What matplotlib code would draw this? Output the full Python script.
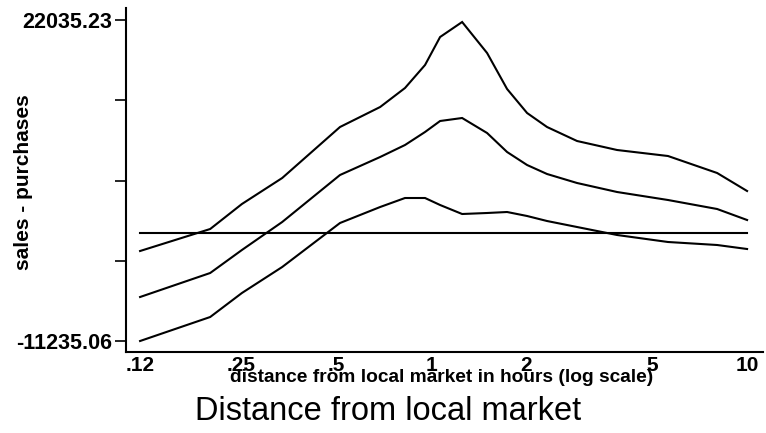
import numpy as np
import matplotlib
matplotlib.use("Agg")
import matplotlib.pyplot as plt

# data
dist = [0.12, 0.20, 0.252, 0.338, 0.515, 0.690, 0.827, 0.957, 1.068, 1.254,
        1.504, 1.740, 2.013, 2.328, 2.897, 3.878, 5.62, 8.04, 10.0]
upper = [-1907, 373, 2964, 5659, 10945, 13018, 14987, 17371, 20273, 21828,
         18615, 14883, 12396, 10945, 9494, 8561, 7939, 6177, 4312]
middle = [-6675, -4187, -1803, 1099, 5970, 7836, 9079, 10427, 11567, 11878,
          10323, 8354, 7006, 6074, 5141, 4208, 3379, 2446, 1306]
lower = [-11235, -8748, -6260, -3565, 995, 2653, 3586, 3586, 2861, 1928,
         2032, 2135, 1721, 1202, 580, -248, -974, -1285, -1700]

ymin, ymax = -11235.06, 22035.23
xticks = [0.12, 0.25, 0.5, 1, 2, 5, 10]
xticklabels = [".12", ".25", ".5", "1", "2", "5", "10"]

plt.rcParams['font.family'] = ['Liberation Sans', 'DejaVu Sans']

fig = plt.figure(figsize=(7.66, 4.33), dpi=100)
ax = fig.add_axes([126/766, 1-352/433, (763-126)/766, (352-8)/433])

for s in (upper, middle, lower):
    ax.plot(dist, s, color='black', lw=1.5, solid_joinstyle='miter')
xl0, xl1 = 0.1083, 11.23
span = np.log10(xl1) - np.log10(xl0)
ax.axhline(0, xmin=(np.log10(0.12)-np.log10(xl0))/span,
           xmax=(np.log10(10)-np.log10(xl0))/span,
           color='black', lw=1.5)

ax.set_xscale('log')
ax.set_xlim(xl0, xl1)
ax.set_ylim(-12375, 23279)
ax.set_xticks(xticks)
ax.set_xticklabels(xticklabels, fontsize=15, fontweight='bold')
ax.minorticks_off()
yt = np.linspace(ymin, ymax, 5)
ax.set_yticks(yt)
ax.set_yticklabels(["-11235.06", "", "", "", "22035.23"], fontsize=15.5, fontweight='bold')
ax.tick_params(axis='y', direction='out', length=8, width=1.2, pad=2)
ax.tick_params(axis='x', length=0, pad=3)
for sp in ('top', 'right'):
    ax.spines[sp].set_visible(False)
for sp in ('left', 'bottom'):
    ax.spines[sp].set_linewidth(1.5)

fig.text(24/766, 1-182/433, "sales - purchases", rotation=90,
         ha='center', va='center', fontsize=15, fontweight='bold')
fig.text(442/766, 1-377/433, "distance from local market in hours (log scale)",
         ha='center', va='center', fontsize=13.8, fontweight='bold')
fig.text(388/766, 1-412/433, "Distance from local market",
         ha='center', va='center', fontsize=23.5)

fig.savefig("out.png", dpi=100)
